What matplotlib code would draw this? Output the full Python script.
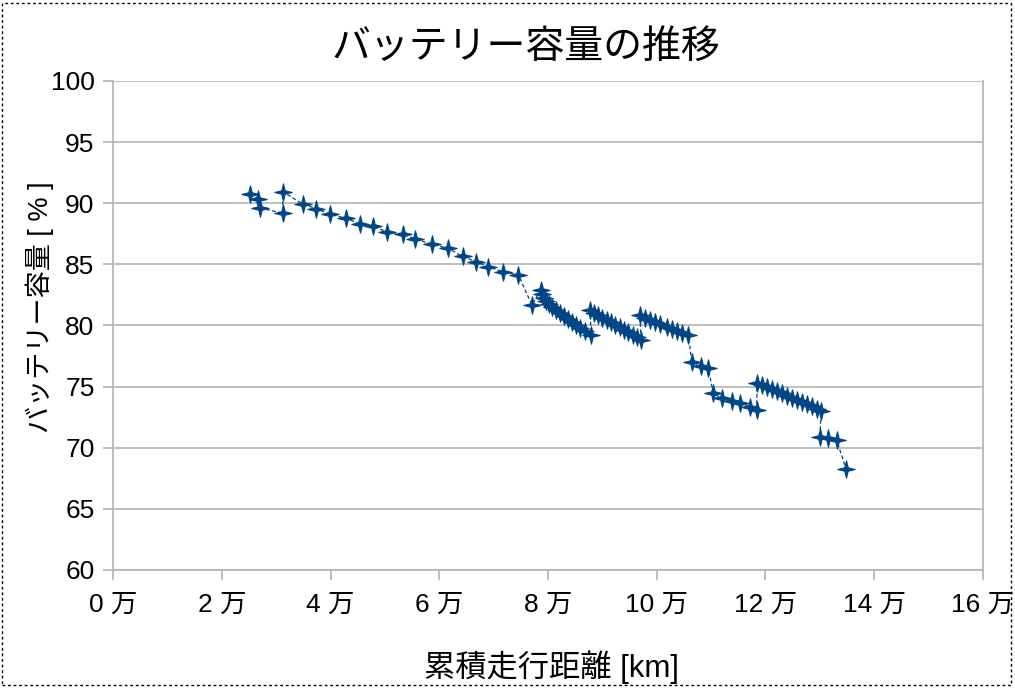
import matplotlib
matplotlib.use('Agg')
import matplotlib.pyplot as plt
from matplotlib.ticker import FuncFormatter, MultipleLocator
from matplotlib.path import Path
from matplotlib.patches import Rectangle
import numpy as np

plt.rcParams['font.family'] = ['Liberation Sans', 'Noto Sans CJK JP']
# --------------------------------------------------------------------------------------
# Data

distance_km = [25160, 26690, 27000, 31180, 31180, 34860, 37300, 39880, 42830, 45410,
               47850, 50320, 53260, 55580, 58600, 61650, 64300, 66750, 69010, 71780,
               74540, 77020, 78710, 78900, 79260, 79630, 80180, 80740, 81470, 82210,
               82950, 83680, 84420, 85160, 85900, 86820, 87920, 87780, 88470, 89200,
               89940, 90860, 91600, 92330, 93250, 93990, 94720, 95640, 96380, 97120,
               96930, 97850, 98770, 99690, 100610, 101840, 102760, 103690, 104610, 105830,
               106450, 108120, 109500, 110420, 111970, 113810, 115340, 117170, 118410, 118470,
               119390, 120310, 121230, 122150, 123070, 123990, 124910, 125830, 126750, 127670,
               128590, 129510, 130250, 130060, 131590, 133130, 134850]

capacity_pct = [90.73, 90.35, 89.6, 89.2, 90.95, 89.93, 89.57, 89.1, 88.77, 88.3,
                88.1, 87.67, 87.49, 87.07, 86.66, 86.3, 85.65, 85.22, 84.8, 84.4,
                84.15, 81.68, 82.9, 82.58, 82.25, 82.0, 81.76, 81.51, 81.27, 81.02,
                80.78, 80.53, 80.29, 80.04, 79.8, 79.55, 79.22, 81.25, 81.06, 80.86,
                80.65, 80.45, 80.25, 80.04, 79.84, 79.63, 79.43, 79.22, 79.02, 78.81,
                80.86, 80.59, 80.45, 80.31, 80.12, 79.9, 79.69, 79.57, 79.41, 79.22,
                77.04, 76.7, 76.5, 74.45, 74.04, 73.85, 73.64, 73.36, 73.09, 75.3,
                75.13, 74.97, 74.81, 74.64, 74.48, 74.23, 74.07, 73.9, 73.74, 73.58,
                73.41, 73.17, 73.0, 70.9, 70.77, 70.63, 68.26]

title_text = 'バッテリー容量の推移'
xlabel_text = '累積走行距離 [km]'
ylabel_text = 'バッテリー容量 [ % ]'
# --------------------------------------------------------------------------------------
# Chart

col = '#004586'
grey = '#b3b3b3'

# 4-pointed star marker
ang = np.arange(8) * np.pi / 4 + np.pi / 2
rad = np.where(np.arange(8) % 2 == 0, 1.0, 0.28)
verts = np.column_stack([rad * np.cos(ang), rad * np.sin(ang)])
verts = np.vstack([verts, verts[0]])
star = Path(verts, [Path.MOVETO] + [Path.LINETO] * 7 + [Path.CLOSEPOLY])

def man(v, pos):
    return '%1.0f 万' % (v / 10000)

fig = plt.figure(figsize=(10.15, 6.88), dpi=100)
ax = fig.add_axes([113.3 / 1015, 118 / 688, 869.4 / 1015, 489 / 688])

ax.plot(distance_km, capacity_pct, color=col, linewidth=0.9, linestyle=(0, (3, 2)),
        marker=star, markersize=12.5, markerfacecolor=col, markeredgecolor=col,
        markeredgewidth=0.8)

ax.set_xlim(0, 160000)
ax.set_ylim(60, 100)
ax.xaxis.set_major_locator(MultipleLocator(20000))
ax.yaxis.set_major_locator(MultipleLocator(5))
ax.xaxis.set_major_formatter(FuncFormatter(man))

ax.grid(True, axis='y', color=grey, linewidth=1.2)
ax.set_axisbelow(True)
for s in ax.spines.values():
    s.set_color(grey)
    s.set_linewidth(1.2)
ax.spines['top'].set_visible(False)

ax.tick_params(axis='both', direction='out', length=7.5, width=1.2, color=grey,
               labelsize=19, labelcolor='black')
ax.tick_params(axis='y', pad=6)
ax.tick_params(axis='x', pad=9)

fig.text(526 / 1015, 1 - 48 / 688, title_text, fontsize=28, ha='center', va='center')
fig.text(552 / 1015, 1 - 667 / 688, xlabel_text, fontsize=22.5, ha='center', va='center')
fig.text(40 / 1015, 1 - 307 / 688, ylabel_text, fontsize=19.5, ha='center', va='center',
         rotation=90)

# dotted frame round the chart
fig.patches.append(Rectangle((2 / 1015, 3 / 688), 1009 / 1015, 682 / 688,
                             transform=fig.transFigure, fill=False, edgecolor='black',
                             linewidth=1, linestyle=(0, (2, 2))))

fig.savefig('out.png', dpi=100)
